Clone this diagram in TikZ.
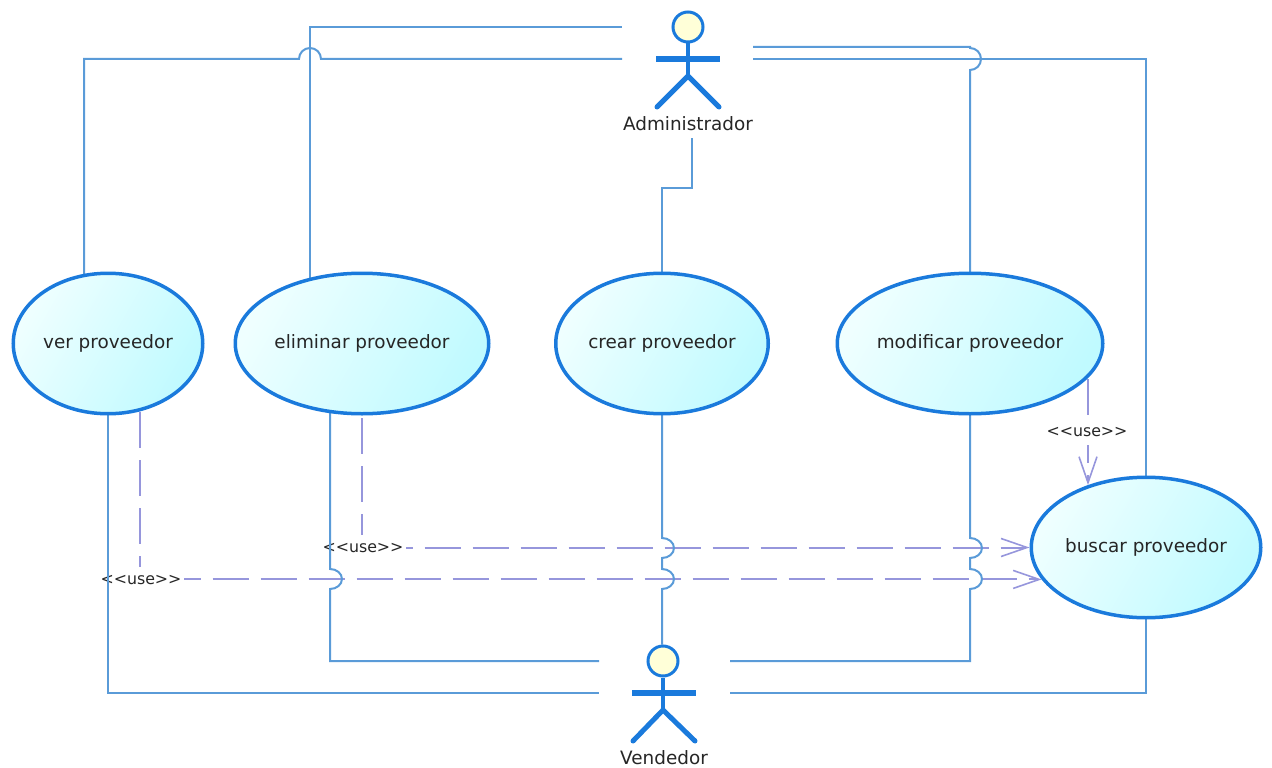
\documentclass[tikz,border=0pt]{standalone}
\usepackage{fontspec}
\setmainfont{DejaVu Sans}
\usepackage{tikz}
\usetikzlibrary{shapes.geometric}
\usetikzlibrary{arrows.meta}
\usetikzlibrary{calc}
\pgfdeclarelayer{dashes}
\pgfdeclarelayer{labels}
\pgfdeclarelayer{background}
\pgfsetlayers{dashes,labels,background,main}
\definecolor{linkblue}{HTML}{5A9BD8}
\definecolor{strokeblue}{HTML}{1A7ADC}
\definecolor{dashviolet}{HTML}{9696DC}
\definecolor{headyellow}{HTML}{FFFFD8}
\definecolor{bubblepale}{HTML}{EFFFFF}
\definecolor{bubblecyan}{HTML}{C0FAFF}
\begin{document}
\begin{tikzpicture}
			[
				x = 1pt, y = -1pt,
				every node/.style = {font = \fontsize{18.4}{20}\selectfont, text = black!85},
				usecase/.style = {ellipse, minimum height = 140.5pt, inner sep = 0pt, line width = 3.5pt, draw = strokeblue, left color = bubblepale, right color = bubblecyan, shading angle = 60},
				head/.style = {circle, minimum size = 30pt, inner sep = 0pt, line width = 3pt, draw = strokeblue, fill = headyellow},
				stick/.style = {line width = 5pt, draw = strokeblue},
				assoc/.style = {line width = 2pt, draw = linkblue},
				uses/.style = {line width = 2pt, draw = dashviolet, dash pattern = on 36pt off 12pt, -{Straight Barb[length = 26pt, width = 18pt, line width = 1.6pt]}},
				stereo/.style = {fill = white, inner sep = 0pt, minimum width = 86pt, minimum height = 26pt, font = \fontsize{15.8}{18}\selectfont},
			]
			\useasboundingbox (0,0) rectangle (1272,768);
			\node (verp) [usecase, minimum width = 189.5pt] at (108,343.5) {ver proveedor};
			\node (elip) [usecase, minimum width = 253.5pt] at (362,343.5) {eliminar proveedor};
			\node (crea) [usecase, minimum width = 212.5pt] at (662,343.5) {crear proveedor};
			\node (modi) [usecase, minimum width = 265.5pt] at (970,343.5) {modificar proveedor};
			\node (busc) [usecase, minimum width = 229.5pt] at (1146,547.5) {buscar proveedor};
			% actors
			\node (adminhead) [head] at (688,27) {};
			\draw [stick, line width = 3.5pt] (adminhead.south) -- (688,76);
			\draw [stick, line width = 6pt] (656,59) -- (720,59);
			\draw [stick, line cap = round] (657,107) -- (688,76) -- (719,107);
			\node (adminlabel) at (688,124) {Administrador};
			\node (sellhead) [head] at (663,661) {};
			\draw [stick, line width = 3.5pt] (sellhead.south) -- (663,710);
			\draw [stick, line width = 6pt] (632,693) -- (696,693);
			\draw [stick, line cap = round] (633,741) -- (663,710) -- (695,741);
			\node (selllabel) at (664,758) {Vendedor};
			% free ends beside the actors
			\coordinate (adminwa) at (622,27);
			\coordinate (adminwb) at (622,59);
			\coordinate (adminea) at (753,47);
			\coordinate (admineb) at (753,59);
			\coordinate (sellwa) at (599,661);
			\coordinate (sellwb) at (599,693);
			\coordinate (sellea) at (730,661);
			\coordinate (selleb) at (730,693);
			\begin{pgfonlayer}{background}
				\draw [assoc] ([xshift = -24pt]verp.center) -- ++(0,-284.5) -- (299,59) arc [start angle = 180, end angle = 360, radius = 11] -- (adminwb);
				\draw [assoc] ([xshift = -52pt]elip.center) |- (adminwa);
				\draw [assoc] (crea.center) -- ++(0,-155.5) -- ++(30,0) -- (692,138);
				\draw [assoc] (modi.center) -- (970,70) arc [start angle = 90, end angle = -90, x radius = 11, y radius = 11] |- (adminea);
				\draw [assoc] (admineb) -| (busc.center);
				\draw [assoc] (verp.center) |- (sellwb);
				\draw [assoc] ([xshift = -32pt]elip.center) -- (330,569) arc [start angle = -90, end angle = 90, x radius = 12, y radius = 10] |- (sellwa);
				\draw [assoc] (crea.center) -- (662,538) arc [start angle = -90, end angle = 90, x radius = 12, y radius = 10] -- (662,569) arc [start angle = -90, end angle = 90, x radius = 12, y radius = 10] -- (sellhead.north -| crea.center);
				\draw [assoc] (modi.center) -- (970,538) arc [start angle = -90, end angle = 90, x radius = 12, y radius = 10] -- (970,569) arc [start angle = -90, end angle = 90, x radius = 12, y radius = 10] |- (sellea);
				\draw [assoc] (busc.center) |- (selleb);
			\end{pgfonlayer}
			\begin{pgfonlayer}{dashes}
				\draw [uses, dash phase = 27.5pt] ([xshift = 32pt]verp.center) |- (busc.197);
				\draw [uses, dash phase = 21.5pt] (elip.center) |- (busc.west);
				\draw [uses, dash phase = 12.5pt] ([xshift = 118pt]modi.center) -- (busc.133 -| 1088,0);
			\end{pgfonlayer}
			\begin{pgfonlayer}{labels}
				\node (stereover) [stereo] at (141,580) {{<}{<}use{>}{>}};
				\node (stereoeli) [stereo] at (363,548) {{<}{<}use{>}{>}};
				\node (stereomod) [stereo] at (1087,432) {{<}{<}use{>}{>}};
			\end{pgfonlayer}
\end{tikzpicture}
\end{document}
